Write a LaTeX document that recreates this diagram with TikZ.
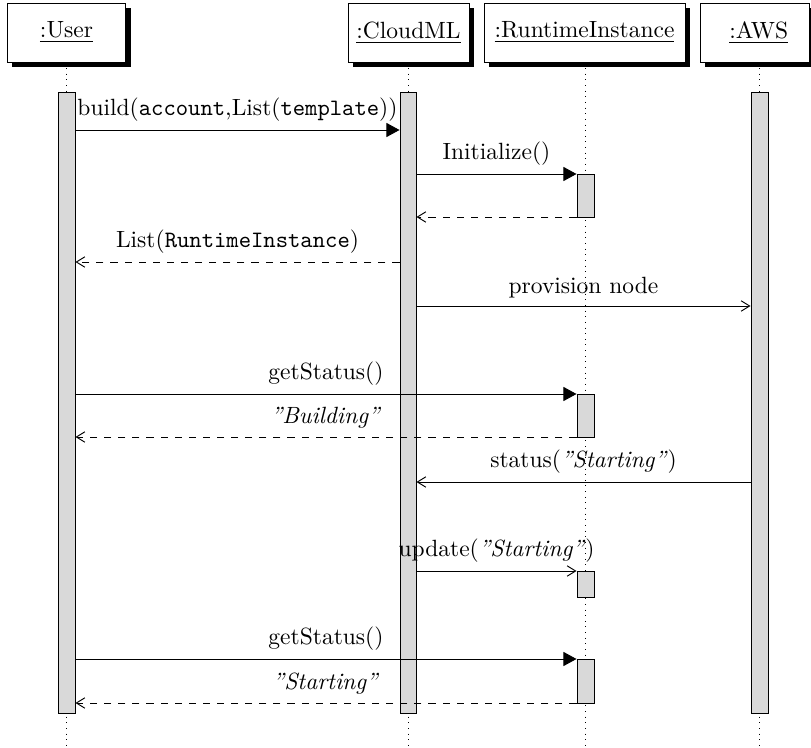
\documentclass[tikz,border=0pt]{standalone}
\usetikzlibrary{arrows.meta,shadows,fit}
\begin{document}
\begin{tikzpicture}[x=0.4255pt,y=-0.4255pt,
  head/.style={draw, fill=white, minimum height=25.1pt, inner sep=2pt,
    drop shadow={shadow xshift=2.2pt, shadow yshift=-2.2pt, fill=black, opacity=1}},
  actbar/.style={draw, fill=gray!30, inner sep=0pt},
  life/.style={dotted},
  callmsg/.style={-{Triangle[length=5.6pt,width=6pt]}},
  asyncmsg/.style={-{Straight Barb[length=3.6pt,width=4.4pt]}},
  retmsg/.style={dashed, -{Straight Barb[length=3.6pt,width=4.4pt]}},
  lbl/.style={midway, above}
]
\useasboundingbox (0,0) rectangle (811,748);
\coordinate (bottom) at (0,748);

% message levels
\coordinate (y1) at (0,130);
\coordinate (y2) at (0,174);
\coordinate (y3) at (0,217);
\coordinate (y4) at (0,262);
\coordinate (y5) at (0,306);
\coordinate (y6) at (0,394);
\coordinate (y7) at (0,437);
\coordinate (y8) at (0,482);
\coordinate (y9) at (0,571);
\coordinate (y10) at (0,659);
\coordinate (y11) at (0,703);

% headers
\node[head, minimum width=50.6pt] (user) at (66.5,32.5) {\underline{:User}};
\node[head, minimum width=51.5pt] (cloud) at (408.5,32.5) {\underline{:CloudML}};
\node[head, minimum width=85.5pt] (rt) at (584.5,32.5) {\underline{:RuntimeInstance}};
\node[head, minimum width=46.4pt] (aws) at (754.5,32.5) {\hspace{3.6pt}\underline{:AWS}};

% lifeline x positions
\coordinate (ux) at (66.5,0);
\coordinate (cx) at (408,0);
\coordinate (rx) at (585.5,0);
\coordinate (ax) at (759.5,0);

\draw[life] (ux |- user.south) -- (ux |- bottom);
\draw[life] (cx |- cloud.south) -- (cx |- bottom);
\draw[life] (rx |- rt.south) -- (rx |- bottom);
\draw[life] (ax |- aws.south) -- (ax |- bottom);

% activation bars
\node[actbar, fit={(58,92) (75,713)}] (ubar) {};
\node[actbar, fit={(400,92) (416,713)}] (cbar) {};
\node[actbar, fit={(751,92) (768,713)}] (abar) {};
\node[actbar, fit={(577,174) (594,217)}] (r1) {};
\node[actbar, fit={(577,394) (594,437)}] (r2) {};
\node[actbar, fit={(577,571) (594,597)}] (r3) {};
\node[actbar, fit={(577,659) (594,703)}] (r4) {};

% messages
\draw[callmsg] (ubar.east |- y1) -- node[lbl]{build(\texttt{account},List(\texttt{template}))} (cbar.west |- y1);
\draw[callmsg] (cbar.east |- y2) -- node[lbl]{Initialize()} (r1.west |- y2);
\draw[retmsg] (r1.west |- y3) -- (cbar.east |- y3);
\draw[retmsg] (cbar.west |- y4) -- node[lbl]{List(\texttt{RuntimeInstance})} (ubar.east |- y4);
\draw[asyncmsg] (cbar.east |- y5) -- node[lbl]{provision node} (abar.west |- y5);
\draw[callmsg] (ubar.east |- y6) -- node[lbl]{getStatus()} (r2.west |- y6);
\draw[retmsg] (r2.west |- y7) -- node[lbl]{\textit{''Building''}} (ubar.east |- y7);
\draw[asyncmsg] (abar.west |- y8) -- node[lbl]{status(\textit{''Starting''})} (cbar.east |- y8);
\draw[asyncmsg] (cbar.east |- y9) -- node[lbl]{update(\textit{''Starting''})} (r3.west |- y9);
\draw[callmsg] (ubar.east |- y10) -- node[lbl]{getStatus()} (r4.west |- y10);
\draw[retmsg] (r4.west |- y11) -- node[lbl]{\textit{''Starting''}} (ubar.east |- y11);
\end{tikzpicture}
\end{document}
